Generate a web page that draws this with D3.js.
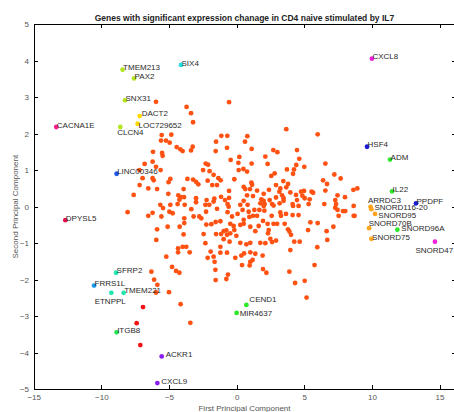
<!DOCTYPE html>
<html>
<head>
<meta charset="utf-8">
<script src="https://cdn.jsdelivr.net/npm/d3@7"></script>
<style>
  body { margin: 0; background: #fff; }
  text { font-family: "Liberation Sans", Arial, sans-serif; }
  .axis path, .axis line { stroke: #000; stroke-width: 1; shape-rendering: crispEdges; }
  .axis text { fill: #555; font-size: 8px; font-family: "Liberation Sans", Arial, sans-serif; }
</style>
</head>
<body>
<div id="chart"></div>
<script>
// chart data
var xTicks = [-15, -10, -5, 0, 5, 10, 15];
var yTicks = [-5, -4, -3, -2, -1, 0, 1, 2, 3, 4, 5];

// genes without label (orange cloud), first and second principal component
var otherPC1 = [
  -5.96, -0.56, -3.70, -3.37, -3.22, 3.67, 5.99, -5.54, -4.83, -1.13, -0.69, 0.79,
  -5.59, -5.22, -4.95, -4.43, -4.16, -3.99, -3.37, -3.25, -6.18, -5.51, -5.47, -1.52,
  -1.55, -0.71, -0.44, 0.20, 0.62, -6.80, -5.96, -5.62, -2.29, -2.11, -2.48, -2.00,
  0.13, 0.15, -6.95, -6.21, -6.13, -4.90, -5.03, -3.64, -3.22, -3.00, -2.83, -1.70,
  -1.35, -1.18, -1.80, -1.45, -2.14, -0.17, 0.52, -0.56, -7.61, -6.53, -5.88, -5.05,
  -3.92, -4.31, -4.11, -3.89, -4.23, -3.00, -2.22, -1.65, -1.15, -0.86, -0.56, 0.52,
  -6.21, -7.19, 1.11, 2.71, 3.01, 4.46, 2.12, 4.63, 2.29, 1.11, 0.77, 0.50,
  4.41, 5.00, 6.56, 3.72, 4.24, 2.81, 2.56, 4.17, 7.22, 7.69, 6.39, 6.68,
  3.45, 3.80, 2.91, 1.09, 1.14, 0.64, 0.99, 1.51, 2.39, 3.23, 3.16, 3.67,
  3.97, 4.76, 4.98, 4.86, 5.54, 5.65, 6.56, 7.46, 8.01, 8.63, 8.92, 2.00,
  0.77, 1.21, 3.36, 3.47, 2.91, 4.39, 4.46, 5.03, 5.40, 7.29, 1.83, 2.00,
  2.44, 1.75, 2.07, 3.18, 4.14, 5.32, 6.48, 7.35, 2.62, 8.65, 7.46, 7.86,
  8.03, 8.72, 7.15, 6.65, 6.70, 5.96, 5.76, 5.03, 4.32, 3.90, 3.97, 5.17,
  2.00, 0.81, 0.44, 0.89, 1.31, 1.68, 2.05, 2.73, 3.47, 4.17, 4.58, 7.29,
  7.54, 8.65, 0.52, 0.94, 1.21, 1.51, 2.59, 3.23, 3.28, 3.65, 4.14, 4.58,
  5.45, 5.99, 0.52, 1.01, 1.38, 1.63, 1.95, 2.29, 2.37, 2.32, 2.73, 2.99,
  3.55, 3.80, 3.90, 4.02, 4.26, 4.66, 5.28, 1.75, 2.12, 2.49, 2.62, 2.91,
  1.01, 0.72, 0.27, 0.55, 1.01, 1.38, 1.92, 1.01, 1.18, 0.40, 0.96, 1.95,
  2.20, -5.64, -5.44, -4.90, -4.36, -3.84, -3.00, -2.31, -1.70, -0.67, -0.59, 0.27,
  -6.53, -6.21, -5.56, -4.97, -4.73, -3.87, -3.87, -3.35, -3.18, -2.76, -2.61, -2.26,
  -2.02, -1.45, -0.67, -0.34, 0.07, -5.88, -5.10, -4.21, -2.24, -1.87, -1.55, -1.20,
  -0.47, -0.22, -0.17, 0.27, -0.96, -0.76, -1.52, -1.15, -0.71, -0.47, -0.02, -2.44,
  -3.92, -5.94, -0.96, -0.52, -2.31, -1.20, -3.99, -3.72, -4.33, -4.33, -3.47, -1.92,
  -1.20, -0.71, 0.35, -0.10, -1.70, -5.20, -2.14, -1.63, -4.77, -4.48, -4.23, -1.57,
  -6.30, -0.64, -0.76, -1.55, -6.10, -5.86, -5.00, -5.96, -4.14, -3.42, -8.06, -7.17
];
var otherPC2 = [
  2.87, 2.86, 2.73, 2.56, 2.31, 2.12, 1.98, 1.96, 1.97, 1.94, 1.94, 1.93,
  1.81, 1.81, 1.75, 1.63, 1.57, 1.52, 1.54, 1.64, 1.50, 1.47, 1.39, 1.78,
  1.52, 1.61, 1.28, 1.36, 1.78, 1.17, 1.09, 1.00, 1.18, 1.15, 1.00, 0.97,
  1.20, 1.00, 0.78, 0.78, 0.72, 0.76, 0.67, 0.76, 0.74, 0.68, 0.61, 0.87,
  0.78, 0.72, 0.59, 0.59, 0.71, 0.75, 0.54, 0.43, 0.32, 0.50, 0.48, 0.35,
  0.48, 0.31, 0.26, 0.26, 0.19, 0.23, 0.18, 0.22, 0.27, 0.18, 0.24, 0.16,
  1.23, 1.00, 1.58, 1.55, 1.49, 1.55, 1.37, 1.31, 1.17, 1.18, 0.96, 1.03,
  1.14, 1.09, 1.18, 1.02, 1.02, 0.91, 0.84, 0.90, 0.88, 0.77, 0.72, 0.62,
  0.70, 0.62, 0.59, 0.66, 0.60, 0.48, 0.48, 0.44, 0.46, 0.50, 0.41, 0.53,
  0.39, 0.41, 0.43, 0.30, 0.41, 0.38, 0.44, 0.31, 0.26, 0.46, 0.50, 0.35,
  0.31, 0.29, 0.31, 0.23, 0.25, 0.32, 0.18, 0.23, 0.20, 0.18, 0.20, 0.16,
  0.18, 0.09, 0.07, 0.09, 0.07, 0.07, 0.07, 0.07, 0.07, 0.02, -0.09, -0.12,
  -0.12, -0.25, -0.55, -0.67, -0.91, -1.11, -1.60, -2.03, -2.09, -1.78, -1.19, -2.49,
  0.02, 0.05, -0.09, -0.14, -0.09, -0.09, -0.11, 0.03, 0.16, 0.02, 0.02, -0.03,
  -0.25, -0.25, -0.36, -0.28, -0.25, -0.25, -0.25, -0.16, -0.25, -0.20, -0.23, -0.23,
  -0.43, -0.45, -0.47, -0.55, -0.67, -0.53, -0.39, -0.47, -0.64, -0.73, -0.47, -0.47,
  -0.47, -0.62, -0.68, -0.77, -0.96, -0.96, -0.64, -0.99, -1.00, -0.88, -0.97, -0.93,
  -0.99, -1.03, -0.99, -1.28, -1.25, -1.29, -1.34, -1.51, -1.46, -1.60, -1.61, -1.71,
  -1.81, 0.05, -0.04, 0.05, 0.07, 0.05, 0.12, 0.05, 0.14, 0.07, 0.00, 0.05,
  -0.25, -0.17, -0.27, -0.14, -0.18, -0.32, -0.45, -0.07, -0.27, -0.27, -0.32, -0.14,
  0.05, -0.06, -0.15, -0.27, -0.20, -0.62, -0.55, -0.55, -0.49, -0.48, -0.42, -0.40,
  -0.47, -0.53, -0.64, -0.50, -0.67, -0.65, -0.75, -0.75, -0.77, -0.73, -0.80, -0.75,
  -0.76, -0.91, -0.89, -0.96, -1.00, -1.10, -1.10, -1.10, -1.14, -1.25, -1.25, -1.23,
  -1.26, -1.26, -1.34, -1.40, -1.37, -1.37, -1.40, -1.51, -1.65, -1.76, -1.81, -1.73,
  -1.78, -1.86, -1.98, -2.01, -2.00, -2.14, -2.34, -2.35, -2.67, -3.18, -0.15, 0.59
];

// highlighted genes
var geneNames = ["CXCL8", "SIX4", "TMEM213", "PAX2", "SNX31", "DACT2", "LOC729652", "CLCN4",
  "CACNA1E", "LINC00346", "DPYSL5", "SFRP2", "FRRS1L", "ETNPPL", "TMEM221", "ITGB8",
  "ACKR1", "CXCL9", "CEND1", "MIR4637", "HSF4", "ADM", "IL22", "PPDPF", "ARRDC3",
  "SNORD116-20", "SNORD95", "SNORD70B", "SNORD96A", "SNORD75", "SNORD47", "", "", ""];
var genePC1 = [10.0, -4.11, -8.43, -7.58, -8.25, -7.17, -7.32, -8.60,
  -13.33, -8.87, -12.66, -8.91, -10.54, -9.26, -8.35, -8.87,
  -5.54, -5.86, 0.72, 0.00, 9.64, 11.34, 11.49, 13.26, 9.90,
  9.96, 10.23, 9.79, 11.88, 9.96, 14.66, -6.92, -7.39, -7.12];
var genePC2 = [4.05, 3.88, 3.75, 3.51, 2.91, 2.48, 2.27, 2.18,
  2.18, 0.90, -0.37, -1.81, -2.16, -2.36, -2.36, -3.44,
  -4.10, -4.83, -2.69, -2.91, 1.64, 1.29, 0.42, 0.09, -0.01,
  -0.07, -0.20, -0.59, -0.63, -0.88, -0.96, -2.75, -3.19, -3.79];
var geneGroup = [1, 2, 3, 3, 3, 4, 4, 3,
  5, 6, 7, 8, 9, 8, 8, 10,
  11, 11, 12, 12, 13, 12, 12, 13, 14,
  14, 14, 14, 12, 14, 1, 15, 15, 15];

var groupColor = {
  1: "#ee22dd", 2: "#22dde6", 3: "#b4e61e", 4: "#ffd800", 5: "#ff1a8c",
  6: "#1a55ee", 7: "#e0124a", 8: "#22e6b0", 9: "#1a9cf0", 10: "#22e655",
  11: "#8a1ef0", 12: "#2ee62a", 13: "#1a1ade", 14: "#ffa51e", 15: "#f01414"
};
var otherColor = "#ff5212";

// label offsets in px (dx, baseline dy) where the default does not fit
var labelShift = {
  "CLCN4": [-3, 7.9], "ETNPPL": [-16.7, 10.9], "ARRDC3": [-2.6, -3.8],
  "SNORD116-20": [3, 0.3], "SNORD95": [3.3, 3.9], "SNORD70B": [-0.4, -2.7],
  "SNORD96A": [4, 0.9], "SNORD75": [0.7, 0.9], "SNORD47": [-19.5, 11.2],
  "ACKR1": [4, 0.6], "CXCL9": [4, 0.9], "CEND1": [3, -2.8], "MIR4637": [3, 3.2],
  "DACT2": [2, 0.2], "LOC729652": [1, 4.6]
};

var svgWidth = 454;
var svgHeight = 412;

var svg = d3.select("#chart")
  .append("svg")
  .attr("width", svgWidth)
  .attr("height", svgHeight);

var x = d3.scaleLinear().domain([-15, 16.2]).range([33.7, 455.8]);
var y = d3.scaleLinear().domain([-5, 5]).range([389.3, 24]);

// box axes, ticks pointing inward
svg.append("g").attr("class", "axis")
  .attr("transform", "translate(0," + y(-5) + ")")
  .call(d3.axisBottom(x).tickValues(xTicks).tickSizeInner(-4).tickSizeOuter(0).tickPadding(5.5));

svg.append("g").attr("class", "axis")
  .attr("transform", "translate(0," + y(5) + ")")
  .call(d3.axisTop(x).tickValues(xTicks).tickSizeInner(-4).tickSizeOuter(0).tickFormat(""));

svg.append("g").attr("class", "axis")
  .attr("transform", "translate(" + x(-15) + ",0)")
  .call(d3.axisLeft(y).tickValues(yTicks).tickSizeInner(-4).tickSizeOuter(0).tickPadding(4.7));

svg.append("g").attr("class", "axis")
  .attr("transform", "translate(" + x(16.2) + ",0)")
  .call(d3.axisRight(y).tickValues(yTicks).tickSizeInner(-4).tickSizeOuter(0).tickFormat(""));

svg.selectAll(".axis text").attr("fill", "#555");

// unlabelled genes
var others = otherPC1.map(function(d, i) { return {pc1: d, pc2: otherPC2[i]}; });

svg.append("g").selectAll("circle")
  .data(others)
  .enter()
  .append("circle")
  .attr("cx", d => x(d.pc1))
  .attr("cy", d => y(d.pc2))
  .attr("r", 2.4)
  .attr("fill", otherColor);

// highlighted genes
var genes = geneNames.map(function(name, i) {
  return {name: name, pc1: genePC1[i], pc2: genePC2[i], group: geneGroup[i]};
});

svg.append("g").selectAll("circle")
  .data(genes)
  .enter()
  .append("circle")
  .attr("cx", d => x(d.pc1))
  .attr("cy", d => y(d.pc2))
  .attr("r", 2.4)
  .attr("fill", d => groupColor[d.group]);

svg.append("g").selectAll("text")
  .data(genes.filter(d => d.name !== ""))
  .enter()
  .append("text")
  .attr("x", d => x(d.pc1) + (labelShift[d.name] ? labelShift[d.name][0] : 0.5))
  .attr("y", d => y(d.pc2) + (labelShift[d.name] ? labelShift[d.name][1] : 0.6))
  .attr("font-size", "8px")
  .attr("fill", "#2a2a2a")
  .text(d => d.name);

// titles
svg.append("text")
  .attr("x", 244.5)
  .attr("y", 20.5)
  .attr("text-anchor", "middle")
  .attr("font-size", "8.5px")
  .attr("font-weight", "bold")
  .attr("fill", "#222")
  .text("Genes with significant expression chanage in CD4 naive stimulated by IL7");

svg.append("text")
  .attr("x", 244.5)
  .attr("y", 411)
  .attr("text-anchor", "middle")
  .attr("font-size", "8px")
  .attr("fill", "#555")
  .text("First Principal Component");

svg.append("text")
  .attr("transform", "translate(18.4," + y(0) + ") rotate(-90)")
  .attr("text-anchor", "middle")
  .attr("font-size", "8px")
  .attr("fill", "#555")
  .text("Second Principal Component");
</script>
</body>
</html>
